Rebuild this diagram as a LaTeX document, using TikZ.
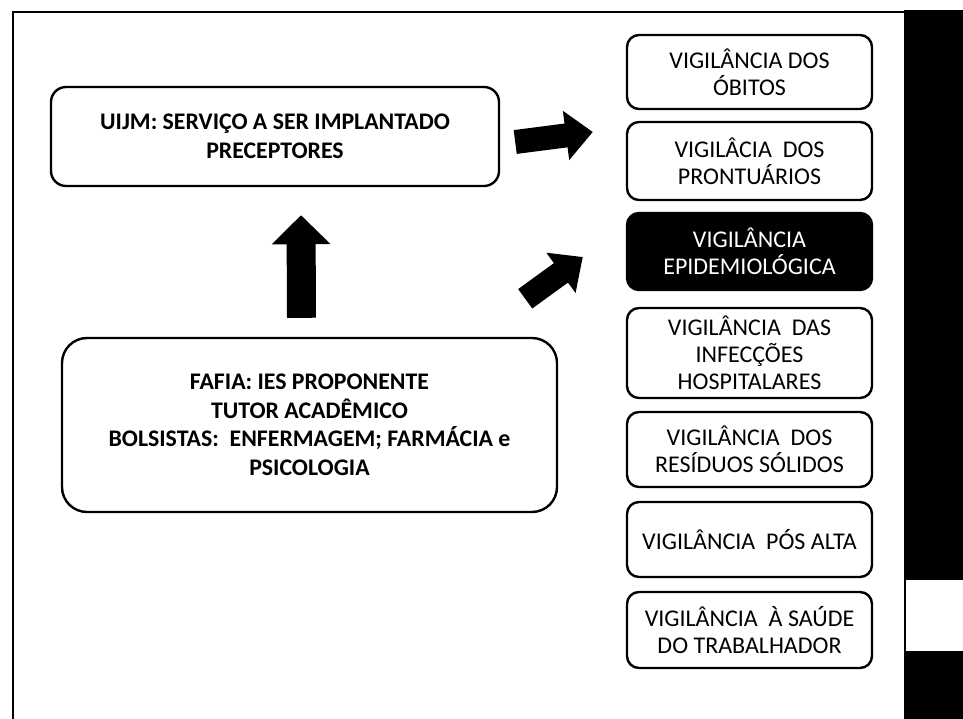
\documentclass[tikz,border=0pt]{standalone}
\usepackage{fontspec}
\setmainfont{Carlito}
\usetikzlibrary{arrows.meta,calc}

\begin{document}
\begin{tikzpicture}[x=1pt,y=-1pt,
    vbox/.style={draw,line width=2.4pt,rounded corners=12pt,minimum width=245pt,
        align=center,inner sep=0pt,font=\fontsize{24}{27}\selectfont},
    lbox/.style={draw,line width=2.4pt,align=center,inner sep=0pt,
        font=\bfseries\fontsize{23.8}{28.5}\selectfont},
    fatarrow/.style={line width=24pt,-{Triangle[length=27pt,width=48pt]}},
    tallarrow/.style={line width=29pt,-{Triangle[length=29pt,width=57pt]}}]

\useasboundingbox (0,0) rectangle (963,719);
\fill[black] (904,10) rectangle (963,719);
\fill[white] (906,580) rectangle (963,651);
\draw[line width=2pt] (13,719) -- (13,12) -- (904,12);

\node[lbox,rounded corners=15pt,minimum width=448pt,minimum height=99pt](uijm) at (275,136.5)
    {UIJM: SERVIÇO A SER IMPLANTADO\\PRECEPTORES};

\node[lbox,rounded corners=25pt,minimum width=495pt,minimum height=174pt](fafia) at (309.5,425)
    {FAFIA: IES PROPONENTE\\TUTOR ACADÊMICO\\BOLSISTAS:~~ENFERMAGEM; FARMÁCIA e\\PSICOLOGIA};

\node[vbox,minimum height=74pt](obitos) at (749.5,72) {VIGILÂNCIA DOS\\ÓBITOS};
\node[vbox,minimum height=78pt](prontuarios) at (749.5,161) {VIGILÂCIA~~DOS\\PRONTUÁRIOS};
\node[vbox,minimum height=77pt,fill=black,text=white](epidemio) at (749.5,251.5) {VIGILÂNCIA\\EPIDEMIOLÓGICA};
\node[vbox,minimum height=90pt](infeccoes) at (749.5,353) {VIGILÂNCIA~~DAS\\INFECÇÕES\\HOSPITALARES};
\node[vbox,minimum height=75pt](residuos) at (749.5,449.5) {VIGILÂNCIA~~DOS\\RESÍDUOS SÓLIDOS};
\node[vbox,minimum height=75pt](posalta) at (749.5,539.5) {VIGILÂNCIA~~PÓS ALTA};
\node[vbox,minimum height=76pt](saude) at (749.5,630) {VIGILÂNCIA~~À SAÚDE\\DO TRABALHADOR};

\draw[tallarrow] ($(fafia.north)+(-8,-19)$) -- ($(uijm.south)+(26,28)$);
\draw[fatarrow] ($(uijm.east)+(15,5.5)$) -- ($(prontuarios.west)+(-33,-29)$);
\draw[fatarrow] ($(fafia.north east)+(-33,-38)$) -- ($(epidemio.west)+(-43,5.5)$);

\end{tikzpicture}
\end{document}
